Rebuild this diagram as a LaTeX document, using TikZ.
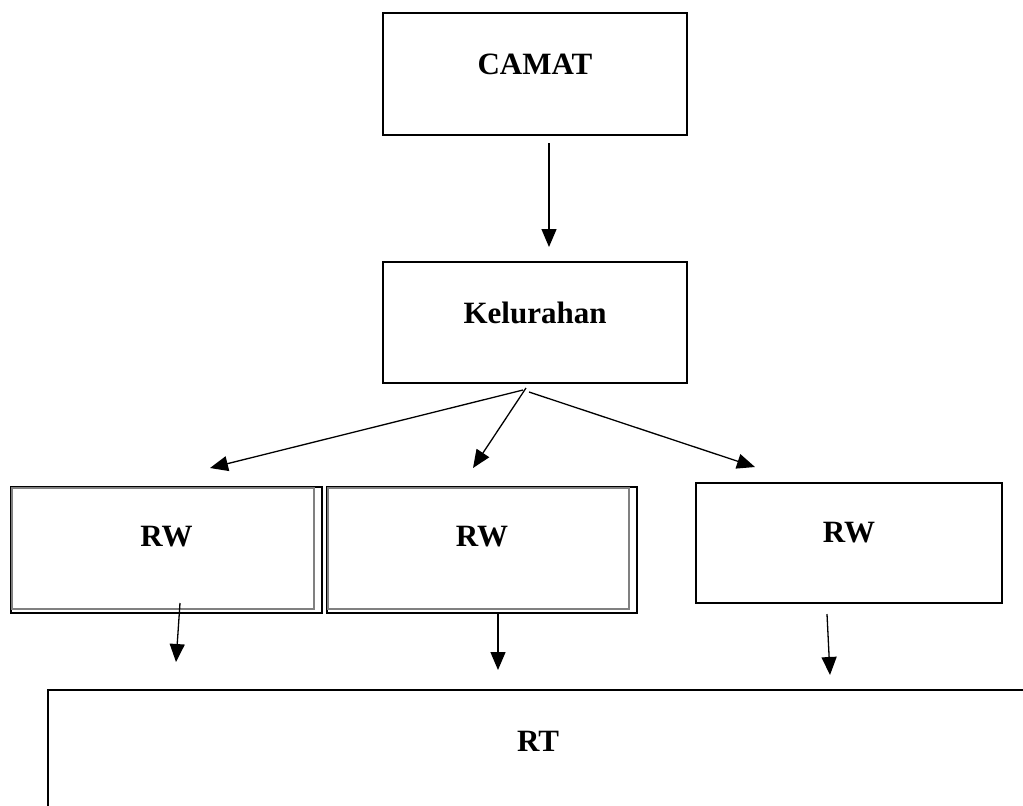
\documentclass[tikz,border=0pt]{standalone}
\usepackage{fontspec}
\setmainfont{Liberation Serif}
\usepackage{tikz}
\usetikzlibrary{arrows.meta, positioning}

\begin{document}
\begin{tikzpicture}[
    x=0.5pt, y=-0.5pt,
    box/.style={rectangle, draw, line width=1pt, align=center, font=\fontsize{15.5}{18}\selectfont\bfseries},
    shade/.style={draw=black!50, line width=0.9pt},
    link/.style={-{Triangle[length=9pt, width=7.5pt]}, line width=0.65pt},
]
    \useasboundingbox (0,0) rectangle (1023,805);

    % Top levels
    \node[box, minimum width=152pt, minimum height=61pt, text depth=10pt] at (535, 74) (camat) {CAMAT};
    \node[box, minimum width=152pt, minimum height=60.5pt, text depth=9.5pt] at (535, 322.5) (kel) {Kelurahan};

    % RW row
    \node[box, minimum width=155.5pt, minimum height=63pt, text depth=14pt] at (166.5, 550) (rw1) {RW};
    \node[box, minimum width=155pt, minimum height=63pt, text depth=14pt] at (482, 550) (rw2) {RW};
    \node[box, minimum width=153pt, minimum height=60pt, text depth=11pt] at (849, 543) (rw3) {RW};
    \draw[shade] ([shift={(2,2)}]rw1.north west) rectangle ([shift={(-9,-5)}]rw1.south east);
    \draw[shade] ([shift={(2,2)}]rw2.north west) rectangle ([shift={(-9,-5)}]rw2.south east);

    % RT (runs past the page edge)
    \node[box, minimum width=490pt, minimum height=70pt, text depth=19pt] at (538, 760) (rt) {RT};

    % Arrow ends
    \coordinate (c0) at (549, 143);
    \coordinate (c1) at (549, 247);
    \coordinate (k1) at (523, 390);
    \coordinate (k2) at (526, 388);
    \coordinate (k3) at (529, 392);
    \coordinate (r1) at (210, 468);
    \coordinate (r2) at (473, 468);
    \coordinate (r3) at (755, 467);
    \coordinate (w1) at (180, 603);
    \coordinate (w2) at (498, 614);
    \coordinate (w3) at (827, 614);
    \coordinate (t1) at (176, 662);
    \coordinate (t2) at (498, 670);
    \coordinate (t3) at (830, 675);

    \draw[link] (c0) -- (c1);
    \draw[link] (k1) -- (r1);
    \draw[link] (k2) -- (r2);
    \draw[link] (k3) -- (r3);
    \draw[link] (w1) -- (t1);
    \draw[link] (w2) -- (t2);
    \draw[link] (w3) -- (t3);

\end{tikzpicture}
\end{document}
